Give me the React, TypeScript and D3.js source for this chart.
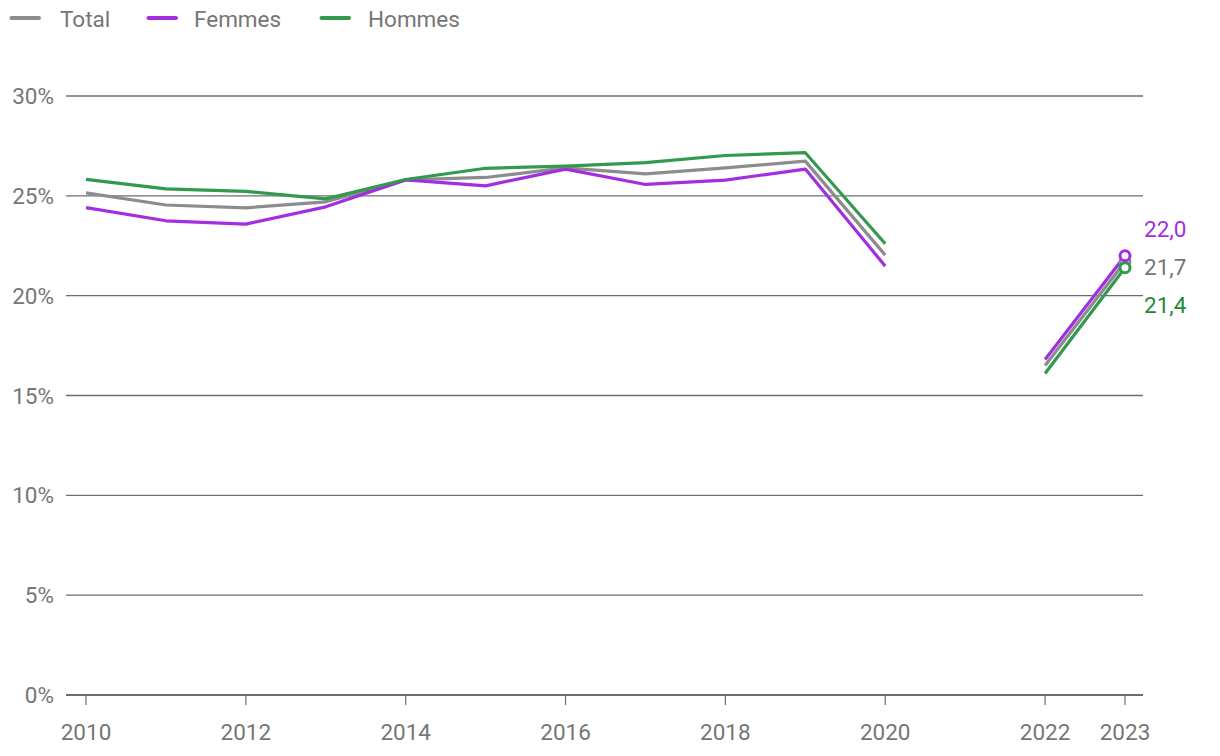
import React from "react";
import * as d3 from "d3";

const years = [2010, 2011, 2012, 2013, 2014, 2015, 2016, 2017, 2018, 2019, 2020, 2022, 2023];
const totalValues = [25.15, 24.54, 24.4, 24.7, 25.8, 25.92, 26.4, 26.1, 26.4, 26.74, 22.03, 16.5, 21.7];
const femmesValues = [24.41, 23.75, 23.58, 24.45, 25.8, 25.5, 26.34, 25.57, 25.79, 26.34, 21.48, 16.8, 22.0];
const hommesValues = [25.82, 25.35, 25.22, 24.85, 25.82, 26.38, 26.49, 26.66, 27.02, 27.16, 22.6, 16.1, 21.4];
const xTickYears = [2010, 2012, 2014, 2016, 2018, 2020, 2022, 2023];
const yTicks = [0, 5, 10, 15, 20, 25, 30];
const endLabels = ["22,0", "21,7", "21,4"];

const series = [
  { name: "Total", values: totalValues, color: "#8c8c8c", text: "#767676", label: endLabels[1] },
  { name: "Femmes", values: femmesValues, color: "#a12fe0", text: "#a12fe0", label: endLabels[0] },
  { name: "Hommes", values: hommesValues, color: "#33994d", text: "#1f8a3a", label: endLabels[2] },
];

export default function App() {
  const W = 1220, H = 756;
  const x = d3.scaleLinear().domain([2010, 2023]).range([86, 1125]);
  const y = d3.scaleLinear().domain([0, 30]).range([695, 96]);
  const line = d3
    .line<[number, number]>()
    .defined((d) => !isNaN(d[1]))
    .x((d) => x(d[0]))
    .y((d) => y(d[1]));

  const font = "Roboto, 'Noto Sans', sans-serif";
  const fs = 22.5;
  const labelY: Record<string, number> = { Femmes: 237, Total: 275, Hommes: 313 };

  return (
    <svg width={W} height={H} style={{ position: "absolute", left: 0, top: 0 }} fontFamily={font}>
      <rect width={W} height={H} fill="#fff" />
      {[
        { s: series[0], lx: 10, tx: 60 },
        { s: series[1], lx: 147, tx: 194 },
        { s: series[2], lx: 320, tx: 368 },
      ].map(({ s, lx, tx }) => (
        <g key={s.name}>
          <line x1={lx + 1.5} x2={lx + 29} y1={18} y2={18} stroke={s.color} strokeWidth={4} strokeLinecap="round" />
          <text x={tx} y={26.5} fontSize={fs} fill="#767676">{s.name}</text>
        </g>
      ))}
      {yTicks.map((t) => (
        <g key={t}>
          <line x1={66} x2={1143} y1={y(t)} y2={y(t)} stroke="#6d6d6d" strokeWidth={t === 0 ? 2 : 1.3} />
          <text x={54} y={y(t) + 8} fontSize={fs} fill="#767676" textAnchor="end">{t}%</text>
        </g>
      ))}
      {xTickYears.map((yr) => (
        <g key={yr}>
          <line x1={x(yr)} x2={x(yr)} y1={695} y2={705} stroke="#6f6f6f" strokeWidth={1.2} />
          <text x={x(yr)} y={739.5} fontSize={fs} fill="#767676" textAnchor="middle">{yr}</text>
        </g>
      ))}
      {series.map((s) => {
        const pts: [number, number][] = [];
        years.forEach((yr, i) => {
          if (i > 0 && yr - years[i - 1] > 1) pts.push([yr - 1, NaN]);
          pts.push([yr, s.values[i]]);
        });
        return (
          <path key={s.name} d={line(pts) || ""} fill="none" stroke={s.color} strokeWidth={3.2} strokeLinejoin="round" />
        );
      })}
      {[series[0], series[2], series[1]].map((s) => (
        <circle key={s.name} cx={x(2023)} cy={y(s.values[s.values.length - 1])} r={5} fill="#fff" stroke={s.color} strokeWidth={3} />
      ))}
      {series.map((s) => (
        <text key={s.name} x={1144} y={labelY[s.name]} fontSize={fs} fill={s.text}>{s.label}</text>
      ))}
    </svg>
  );
}
